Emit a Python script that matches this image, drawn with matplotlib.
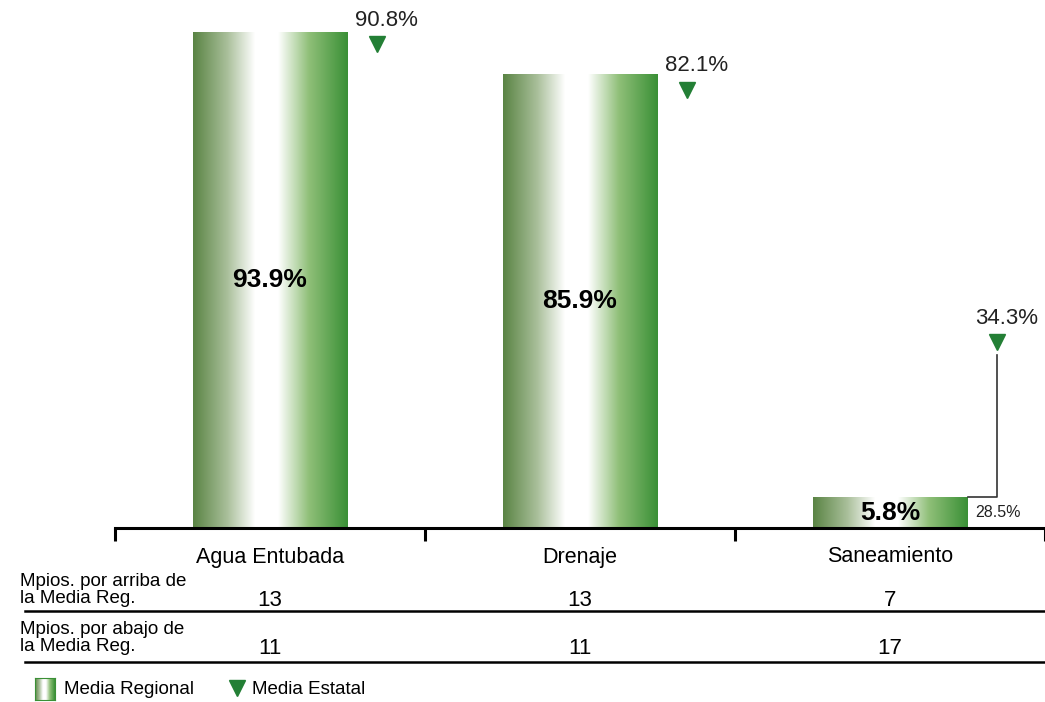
import numpy as np
import matplotlib
matplotlib.use('Agg')
import matplotlib.pyplot as plt
import matplotlib.transforms as mtransforms
from matplotlib.colors import LinearSegmentedColormap

plt.rcParams['font.family'] = ['Liberation Sans', 'DejaVu Sans']

categories = ['Agua Entubada', 'Drenaje', 'Saneamiento']
media_regional = [93.9, 85.9, 5.8]
media_estatal = [90.8, 82.1, 34.3]
arriba = [13, 13, 7]
abajo = [11, 11, 17]
extra_label = '28.5%'
row_labels = ['Mpios. por arriba de\nla Media Reg.', 'Mpios. por abajo de\nla Media Reg.']

W, H = 1045, 702
fig = plt.figure(figsize=(W / 100, H / 100), dpi=100)
fig.patch.set_facecolor('white')

def fy(py):
    return 1 - py / H

ax = fig.add_axes([115 / W, fy(528), 930 / W, 528 / H])
ax.set_xlim(-0.5, 2.5)
ax.set_ylim(0, 100)
for s in ['top', 'right', 'left']:
    ax.spines[s].set_visible(False)
ax.spines['bottom'].set_linewidth(2.2)
ax.set_yticks([])
ax.set_xticks([-0.5, 0.5, 1.5, 2.5])
ax.set_xticklabels([])
ax.tick_params(axis='x', direction='out', length=9, width=2.2, color='black')

grad = LinearSegmentedColormap.from_list(
    'g', [(0.0, '#5a8444'), (0.22, '#a9bf9a'), (0.4, '#ffffff'), (0.55, '#ffffff'),
          (0.75, '#8fbf78'), (1.0, '#3a9036')])
gradimg = np.linspace(0, 1, 256).reshape(1, -1)

x = np.arange(len(categories))
width = 0.5
bars = ax.bar(x, media_regional, width=width, color='none', edgecolor='none')
for b, v in zip(bars, media_regional):
    im = ax.imshow(gradimg, cmap=grad, aspect='auto',
                   extent=(b.get_x(), b.get_x() + b.get_width(), 0, b.get_height()),
                   zorder=2)
    im.set_clip_path(b)
    ax.text(b.get_x() + b.get_width() / 2, v / 2, f'{v}%', ha='center', va='center',
            fontsize=19, fontweight='bold', color='black', zorder=3)

# media estatal markers
up = mtransforms.offset_copy(ax.transData, fig=fig, x=0, y=5, units='dots')
mx = x + 0.345
ax.plot(mx, media_estatal, linestyle='none', marker='v', markersize=12,
        color='#237f35', transform=up, zorder=4, clip_on=False)
for xi, v in zip(mx, media_estatal):
    ax.annotate(f'{v}%', (xi, v), xytext=(7, 13), textcoords='offset points',
                ha='center', va='bottom', fontsize=16, color='#222222')

# connector for Saneamiento
i = 2
ax.plot([mx[i], mx[i], x[i] + width / 2], [media_estatal[i] - 1.6, media_regional[i], media_regional[i]],
        color='#333333', lw=1.2, zorder=3)
ax.text(x[i] + width / 2 + 0.025, media_regional[i] / 2, extra_label, ha='left', va='center',
        fontsize=11.5, color='#222222')

# table below
bt = mtransforms.blended_transform_factory(ax.transData, fig.transFigure)
for xi, c, a, b in zip(x, categories, arriba, abajo):
    fig.text(xi, fy(557), c, transform=bt, ha='center', va='center', fontsize=15.5)
    fig.text(xi, fy(600), str(a), transform=bt, ha='center', va='center', fontsize=16)
    fig.text(xi, fy(648), str(b), transform=bt, ha='center', va='center', fontsize=16)

fig.text(20 / W, fy(590), row_labels[0], ha='left', va='center', fontsize=13.5, linespacing=1.0)
fig.text(20 / W, fy(638), row_labels[1], ha='left', va='center', fontsize=13.5, linespacing=1.0)
for py in [611, 662]:
    fig.add_artist(plt.Line2D([25 / W, 1.0], [fy(py), fy(py)], color='black', lw=1.8))

# legend
lax = fig.add_axes([35 / W, fy(700), 20 / W, 22 / H])
lax.imshow(gradimg, cmap=grad, aspect='auto')
lax.set_xticks([])
lax.set_yticks([])
for s in lax.spines.values():
    s.set_color('#3a9036')
fig.text(64 / W, fy(689), 'Media Regional', ha='left', va='center', fontsize=13.5)
fig.add_artist(plt.Line2D([237 / W], [fy(688)], marker='v', markersize=11, color='#237f35',
                          linestyle='none'))
fig.text(252 / W, fy(689), 'Media Estatal', ha='left', va='center', fontsize=13.5)

fig.savefig('out.png', dpi=100, facecolor='white')
